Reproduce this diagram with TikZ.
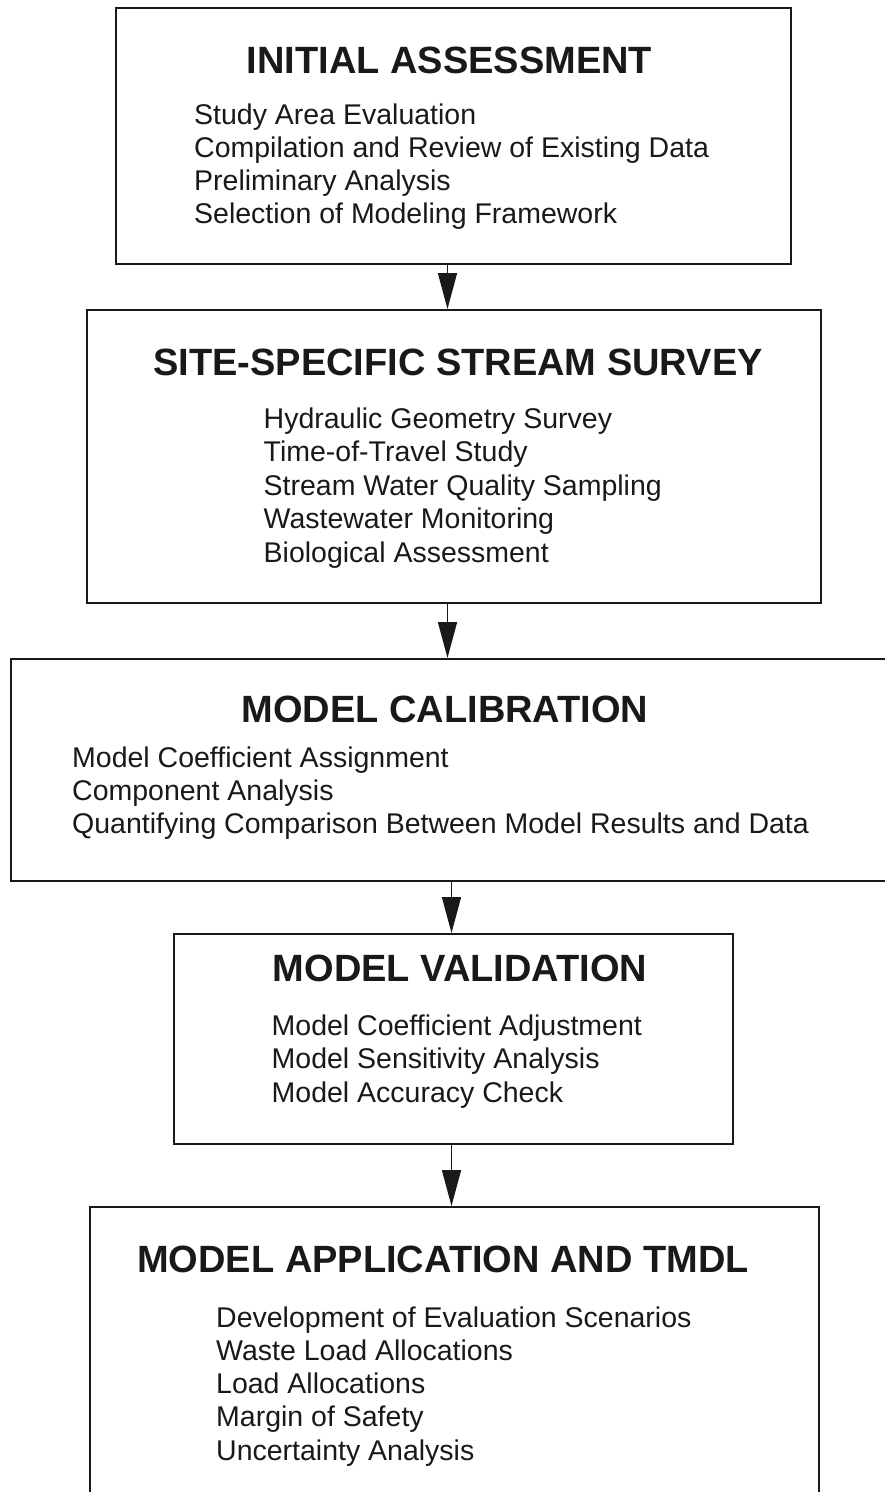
\documentclass[tikz,border=0pt]{standalone}
\usepackage{fontspec}
\setmainfont{Liberation Sans}
\usetikzlibrary{arrows.meta}
\begin{document}
\begin{tikzpicture}[x=1pt,y=-1pt,
 box/.style={draw=black!90, line width=2pt, inner sep=0pt, anchor=north west},
 ttl/.style={anchor=base, font=\fontsize{38}{44}\selectfont\bfseries, inner sep=0pt, text=black!90},
 itm/.style={anchor=base west, font=\fontsize{28.5}{33}\selectfont, inner sep=0pt, text=black!90},
 arr/.style={draw=black!90, line width=1.6pt, -{Triangle[length=36pt,width=19pt]}}]
\useasboundingbox (0,0) rectangle (885,1492);
\clip (0,0) rectangle (885,1492);
% boxes
\node[box, minimum width=675pt, minimum height=256pt] (box1) at (115,7) {};
\node[box, minimum width=734pt, minimum height=293pt] (box2) at (86,309) {};
\node[box, minimum width=900pt, minimum height=222pt] (box3) at (10,658) {};
\node[box, minimum width=559pt, minimum height=210pt] (box4) at (173,933) {};
\node[box, minimum width=729pt, minimum height=330pt] (box5) at (89,1206) {};
% titles
\node[ttl] (t1) at (449.5,73) {INITIAL ASSESSMENT};
\node[ttl] (t2) at (458,375) {SITE-SPECIFIC STREAM SURVEY};
\node[ttl] (t3) at (445,722) {MODEL CALIBRATION};
\node[ttl] (t4) at (460,981) {MODEL VALIDATION};
\node[ttl] (t5) at (443,1272) {MODEL APPLICATION AND TMDL};
% items
\foreach \t [count=\i] in {Study Area Evaluation, Compilation and Review of Existing Data, Preliminary Analysis, Selection of Modeling Framework}
  \node[itm] (ia\i) at ({194},{124+33.3*(\i-1)}) {\t};
\foreach \t [count=\i] in {Hydraulic Geometry Survey, Time-of-Travel Study, Stream Water Quality Sampling, Wastewater Monitoring, Biological Assessment}
  \node[itm] (ib\i) at ({263.5},{428+33.5*(\i-1)}) {\t};
\foreach \t [count=\i] in {Model Coefficient Assignment, Component Analysis, Quantifying Comparison Between Model Results and Data}
  \node[itm] (ic\i) at ({72},{767+33*(\i-1)}) {\t};
\foreach \t [count=\i] in {Model Coefficient Adjustment, Model Sensitivity Analysis, Model Accuracy Check}
  \node[itm] (id\i) at ({271.5},{1035+33.5*(\i-1)}) {\t};
\foreach \t [count=\i] in {Development of Evaluation Scenarios, Waste Load Allocations, Load Allocations, Margin of Safety, Uncertainty Analysis}
  \node[itm] (ie\i) at ({216},{1327+33.25*(\i-1)}) {\t};
% arrows
\coordinate (xa) at (447.5,0);
\coordinate (xb) at (451.5,0);
\draw[arr] (box1.south -| xa) -- (box2.north -| xa);
\draw[arr] (box2.south -| xa) -- (box3.north -| xa);
\draw[arr] (box3.south -| xb) -- (box4.north -| xb);
\draw[arr] (box4.south -| xb) -- (box5.north -| xb);
\end{tikzpicture}
\end{document}
